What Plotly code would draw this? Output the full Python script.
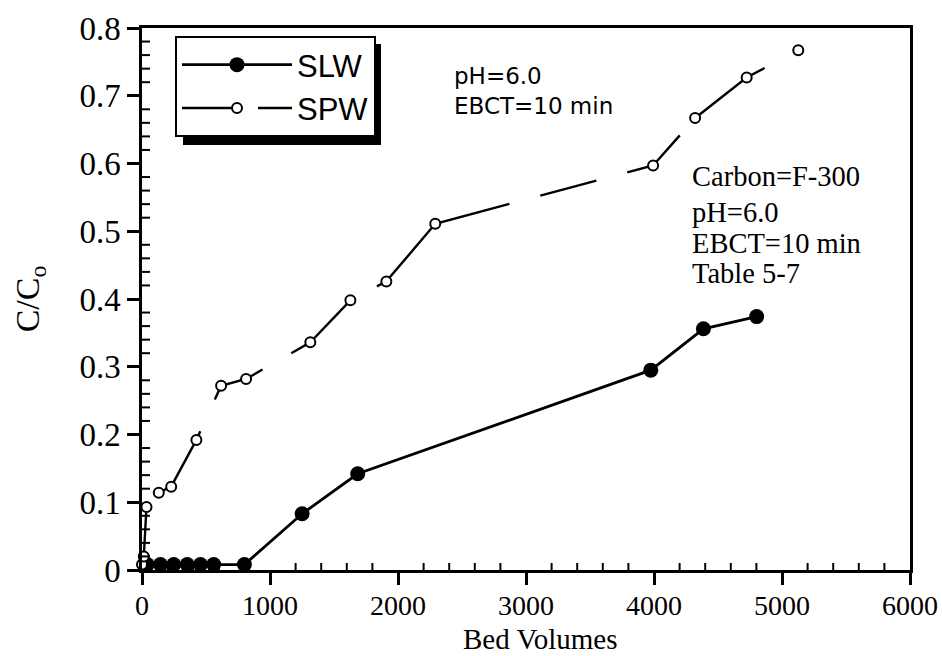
import plotly.graph_objects as go

# Breakthrough data: bed volumes vs. normalized effluent concentration
slw_bv = [41, 144, 248, 353, 457, 560, 800, 1251, 1685, 3975, 4386, 4802]
slw_c = [0.008, 0.008, 0.008, 0.008, 0.008, 0.008, 0.008, 0.083, 0.142, 0.295, 0.356, 0.374]

spw_bv = [0, 14, 35, 131, 228, 425, 618, 813, 1315, 1628, 1909, 2291, 3993, 4321, 4724, 5127]
spw_c = [0.008, 0.020, 0.093, 0.114, 0.123, 0.192, 0.272, 0.282, 0.336, 0.398, 0.426,
         0.511, 0.597, 0.667, 0.727, 0.767]

x_range = [0, 6000]
y_range = [0, 0.8]
x_minor = [v for v in range(0, 6001, 200) if v % 1000]
y_minor = [round(v * 0.02, 2) for v in range(41) if v % 5]

conditions_left = ["pH=6.0", "EBCT=10 min"]
conditions_right = ["Carbon=F-300", "pH=6.0", "EBCT=10 min", "Table 5-7"]

SERIF = "Liberation Serif"
SANS = "Liberation Sans"

fig = go.Figure()

fig.add_trace(go.Scatter(
    x=slw_bv, y=slw_c, name="SLW", mode="lines+markers",
    line=dict(color="black", width=2.8),
    marker=dict(symbol="circle", size=15, color="black"),
    cliponaxis=False,
))

fig.add_trace(go.Scatter(
    x=spw_bv, y=spw_c, name="SPW", mode="lines+markers",
    line=dict(color="black", width=2.4,
              dash="58px,18px,77px,35px,60px,33px,79px,31px,163px,32px,"
                   "58px,32px,67px,24px,85px,40px"),
    marker=dict(symbol="circle", size=10, color="white",
                line=dict(color="black", width=2)),
    cliponaxis=False,
))

L, R, T, B = 142, 32, 28, 86
W, H = 942, 656
pw, ph = W - L - R, H - T - B


def px_x(p):
    return (p - L) / pw


def px_y(p):
    return 1 - (p - T) / ph


# inward minor ticks, anchored on the axes and sized in pixels
for v in x_minor:
    fig.add_shape(type="line", xref="x", yref="y", x0=v, x1=v,
                  ysizemode="pixel", yanchor=0, y0=0, y1=7,
                  line=dict(color="black", width=2), layer="above")
for v in y_minor:
    fig.add_shape(type="line", xref="x", yref="y", y0=v, y1=v,
                  xsizemode="pixel", xanchor=0, x0=0, x1=8,
                  line=dict(color="black", width=2), layer="above")

for txt, yc in zip(conditions_left, [76, 106]):
    fig.add_annotation(text=txt, xref="paper", yref="paper", x=px_x(452), y=px_y(yc),
                       xanchor="left", yanchor="middle", showarrow=False,
                       font=dict(family="DejaVu Sans", size=23, color="black"))

for txt, yc in zip(conditions_right, [177, 212, 243, 273]):
    fig.add_annotation(text=txt, xref="paper", yref="paper", x=px_x(690), y=px_y(yc),
                       xanchor="left", yanchor="middle", showarrow=False,
                       font=dict(family=SERIF, size=28.5, color="black"))

# x-axis title
fig.add_annotation(text="Bed Volumes", xref="paper", yref="paper",
                   x=px_x(540), y=px_y(656), xanchor="center", yanchor="bottom",
                   showarrow=False, borderpad=0,
                   font=dict(family=SERIF, size=29, color="black"))

# drop shadow behind the legend box
fig.add_shape(type="rect", xref="paper", yref="paper",
              x0=px_x(183), x1=px_x(381), y0=px_y(145), y1=px_y(44),
              fillcolor="black", line=dict(width=0), layer="above")

fig.update_layout(
    width=W, height=H,
    margin=dict(l=L, r=R, t=T, b=B, autoexpand=False),
    paper_bgcolor="white", plot_bgcolor="white",
    showlegend=True,
    legend=dict(x=px_x(175), y=px_y(36), xanchor="left", yanchor="top",
                bgcolor="white", bordercolor="black", borderwidth=2,
                font=dict(family=SANS, size=31, color="black"),
                itemwidth=110, tracegroupgap=0),
    xaxis=dict(range=x_range, tick0=0, dtick=1000, automargin=False,
               ticks="outside", ticklen=12, tickwidth=2.5, tickcolor="black",
               showline=True, linewidth=2.5, linecolor="black", mirror=True,
               showgrid=False, zeroline=False, ticklabelstandoff=-3,
               tickfont=dict(family=SERIF, size=28, color="black")),
    yaxis=dict(range=y_range, tick0=0, dtick=0.1, automargin=False,
               ticks="outside", ticklen=12, tickwidth=2.5, tickcolor="black",
               showline=True, linewidth=2.5, linecolor="black", mirror=True,
               showgrid=False, zeroline=False,
               tickfont=dict(family=SERIF, size=33, color="black"),
               title=dict(text="C/C<sub>o</sub>", font=dict(family=SERIF, size=34, color="black"),
                          standoff=30)),
)

fig.write_html("out.html")
